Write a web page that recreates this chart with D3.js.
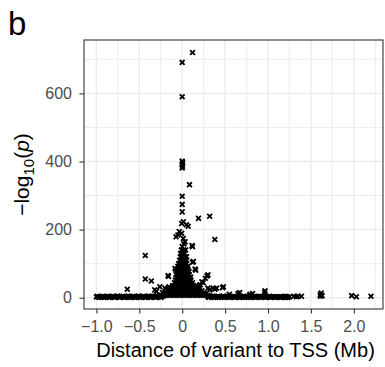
<!DOCTYPE html>
<html>
<head>
<meta charset="utf-8">
<script src="https://cdn.jsdelivr.net/npm/d3@7"></script>
<style>
  html, body { margin: 0; padding: 0; background: #fff; }
  svg { display: block; font-family: "Liberation Sans", Arial, Helvetica, sans-serif; }
</style>
</head>
<body>
<svg id="chart" width="385" height="367"></svg>
<script>
// ---------------- data ----------------
const xTickValues = [-1.0, -0.5, 0, 0.5, 1.0, 1.5, 2.0];
const xTickLabels = ["\u22121.0", "\u22120.5", "0", "0.5", "1.0", "1.5", "2.0"];
const xMinorValues = [-0.75, -0.25, 0.25, 0.75, 1.25, 1.75, 2.25];
const yTickValues = [0, 200, 400, 600];
const yTickLabels = ["0", "200", "400", "600"];
const yMinorValues = [100, 300, 500, 700];

// strong hits and scattered points [distance (Mb), -log10 p]
const outlierPoints = [
  [0.12,720],[0.0,691],[0.0,590],[0.0,401],[0.005,396],[0.0,391],[0.003,386],[0.0,381],
  [0.085,332],[0.0,298],[0.0,274],[0.0,252],[0.32,239],[0.19,233],[0.013,223],[-0.006,218],
  [0.07,210],[0.05,214],[-0.034,194],[-0.006,189],[-0.072,179],[-0.05,184],[0.013,174],
  [0.033,164],[0.02,158],[0.12,150],[0.115,153],[0.0,150],[0.38,171],[-0.43,124],
  [0.13,106],[0.12,104],[0.157,81],[0.15,84],[-0.084,86],[-0.072,81],[-0.16,62],[-0.165,65],
  [-0.155,32],[-0.43,55],[-0.36,49],[0.30,67],[0.29,64],[0.27,57],[0.245,44],[0.23,47],
  [0.21,38],[0.2,33],[0.48,32],[0.47,29],[0.38,25],[0.40,28],[0.36,28],[0.32,23],[0.30,28],
  [-0.26,32],[-0.2,28],[-0.32,23],[-0.30,19],[-0.165,27],[-0.64,25],[-0.23,15],
  [0.965,20],[0.96,15],[0.67,15],[0.65,12],[0.82,12],[0.79,10],[0.55,10]
];

// far-away variants
const farPoints = [
  [1.20,4],[1.22,3],[1.30,4],[1.33,3],[1.35,4],[1.39,4],[1.61,4],[1.61,9],[1.62,14],
  [1.63,6],[1.975,6],[2.03,3],[2.20,4]
];

// dense cluster around the TSS: one row per -log10 p level
const clusterLevels = [140, 130, 120, 110, 100, 92, 84, 76, 68, 60, 52, 44, 36, 28, 20, 13, 7];
const clusterRowsX = [
  [-0.01, 0.02, 0.04],
  [-0.02, 0.01, 0.03],
  [-0.02, 0.0, 0.03, 0.05],
  [-0.03, 0.0, 0.03, 0.05],
  [-0.04, -0.01, 0.02, 0.05],
  [-0.05, -0.02, 0.01, 0.04, 0.07],
  [-0.06, -0.03, 0.0, 0.03, 0.06],
  [-0.06, -0.03, 0.0, 0.03, 0.06, 0.08],
  [-0.07, -0.04, -0.01, 0.02, 0.05, 0.08],
  [-0.07, -0.04, -0.01, 0.02, 0.05, 0.08, 0.10],
  [-0.08, -0.05, -0.02, 0.01, 0.04, 0.07, 0.10],
  [-0.09, -0.06, -0.03, 0.0, 0.03, 0.06, 0.09, 0.12],
  [-0.11, -0.08, -0.05, -0.02, 0.01, 0.04, 0.07, 0.10, 0.13, 0.16],
  [-0.13, -0.10, -0.07, -0.04, -0.01, 0.02, 0.05, 0.08, 0.11, 0.14, 0.17, 0.20],
  [-0.16, -0.13, -0.10, -0.07, -0.04, -0.01, 0.02, 0.05, 0.08, 0.11, 0.14, 0.17, 0.20, 0.23],
  [-0.20, -0.17, -0.14, -0.11, -0.08, -0.05, -0.02, 0.01, 0.04, 0.07, 0.10, 0.13, 0.16, 0.19, 0.22, 0.25, 0.28],
  [-0.24, -0.21, -0.18, -0.15, -0.12, -0.09, -0.06, -0.03, 0.0, 0.03, 0.06, 0.09, 0.12, 0.15, 0.18, 0.21, 0.24, 0.27, 0.30]
];

// the low band of weak associations along the whole window
const bandPoints = [
  [-1.00,2],[-0.99,4],[-0.97,1],[-0.96,3],[-0.94,2],[-0.93,4],[-0.91,1],[-0.90,3],[-0.88,2],[-0.87,4],
  [-0.85,1],[-0.84,3],[-0.82,2],[-0.81,4],[-0.79,1],[-0.78,3],[-0.76,2],[-0.75,5],[-0.73,1],[-0.72,3],
  [-0.70,2],[-0.69,4],[-0.67,1],[-0.66,3],[-0.64,2],[-0.63,5],[-0.61,1],[-0.60,3],[-0.58,2],[-0.57,4],
  [-0.55,1],[-0.54,3],[-0.52,2],[-0.51,5],[-0.49,1],[-0.48,3],[-0.46,2],[-0.45,4],[-0.43,1],[-0.42,3],
  [-0.40,2],[-0.39,5],[-0.37,1],[-0.36,3],[-0.34,2],[-0.33,4],[-0.31,1],[-0.30,6],[-0.28,2],[-0.27,4],
  [-0.25,1],[-0.24,3],[-0.22,5],
  [0.30,3],[0.31,1],[0.33,4],[0.34,2],[0.36,5],[0.37,1],[0.39,3],[0.40,2],[0.42,4],[0.43,1],
  [0.45,3],[0.46,2],[0.48,5],[0.49,1],[0.51,3],[0.52,2],[0.54,4],[0.55,1],[0.57,3],[0.58,2],
  [0.60,4],[0.61,1],[0.63,3],[0.64,2],[0.66,5],[0.67,1],[0.69,3],[0.70,2],[0.72,4],[0.73,1],
  [0.75,3],[0.76,2],[0.78,5],[0.79,1],[0.81,3],[0.82,2],[0.84,4],[0.85,1],[0.87,3],[0.88,2],
  [0.90,4],[0.91,1],[0.93,3],[0.94,2],[0.96,4],[0.97,1],[0.99,3],[1.00,2],[1.02,4],[1.03,1],
  [1.05,3],[1.06,2],[1.08,3],[1.09,1],[1.11,3],[1.12,2],[1.14,3],[1.15,1],[1.17,2],[1.18,3],
  [1.20,1],[1.21,2],[1.23,1],[1.25,2]
];

// ---------------- drawing ----------------
const panel = { left: 84, right: 383, top: 40, bottom: 309 };
const svg = d3.select("#chart");

const x = d3.scaleLinear().domain([-1.1445, 2.3403]).range([panel.left, panel.right]);
const y = d3.scaleLinear().domain([-33.2, 756.8]).range([panel.bottom, panel.top]);

svg.append("rect")
  .attr("x", panel.left).attr("y", panel.top)
  .attr("width", panel.right - panel.left).attr("height", panel.bottom - panel.top)
  .attr("fill", "#fff");

const grid = svg.append("g");
grid.selectAll("line.xminor").data(xMinorValues).join("line")
  .attr("x1", d => x(d)).attr("x2", d => x(d))
  .attr("y1", panel.top).attr("y2", panel.bottom)
  .attr("stroke", "#EBEBEB").attr("stroke-width", 0.9);
grid.selectAll("line.yminor").data(yMinorValues).join("line")
  .attr("y1", d => y(d)).attr("y2", d => y(d))
  .attr("x1", panel.left).attr("x2", panel.right)
  .attr("stroke", "#EBEBEB").attr("stroke-width", 0.9);
grid.selectAll("line.xmajor").data(xTickValues).join("line")
  .attr("x1", d => x(d)).attr("x2", d => x(d))
  .attr("y1", panel.top).attr("y2", panel.bottom)
  .attr("stroke", "#EBEBEB").attr("stroke-width", 1.4);
grid.selectAll("line.ymajor").data(yTickValues).join("line")
  .attr("y1", d => y(d)).attr("y2", d => y(d))
  .attr("x1", panel.left).attr("x2", panel.right)
  .attr("stroke", "#EBEBEB").attr("stroke-width", 1.4);

// points
const clusterPoints = [];
clusterLevels.forEach((v, i) => clusterRowsX[i].forEach(px => clusterPoints.push([px, v])));
const allPoints = bandPoints.concat(clusterPoints, farPoints, outlierPoints);

const cross = "M-2.4,-2.4L2.4,2.4M-2.4,2.4L2.4,-2.4";
svg.append("g").selectAll("path").data(allPoints).join("path")
  .attr("transform", d => `translate(${x(d[0])},${y(d[1])})`)
  .attr("d", cross)
  .attr("fill", "none")
  .attr("stroke", "#000")
  .attr("stroke-width", 1.8);

svg.append("rect")
  .attr("x", panel.left).attr("y", panel.top)
  .attr("width", panel.right - panel.left).attr("height", panel.bottom - panel.top)
  .attr("fill", "none").attr("stroke", "#333").attr("stroke-width", 1.1);

// axes
const xAxis = d3.axisBottom(x).tickValues(xTickValues)
  .tickFormat((d, i) => xTickLabels[i]).tickSize(4.5).tickPadding(7.5);
const gx = svg.append("g").attr("transform", `translate(0,${panel.bottom})`).call(xAxis);
gx.select(".domain").remove();
gx.selectAll(".tick line").attr("stroke", "#333").attr("stroke-width", 1.1);
gx.selectAll(".tick text").attr("fill", "#4D4D4D").style("font-size", "16px")
  .style("font-family", "'Liberation Sans', Arial, sans-serif");

const yAxis = d3.axisLeft(y).tickValues(yTickValues)
  .tickFormat((d, i) => yTickLabels[i]).tickSize(4.5).tickPadding(7.5);
const gy = svg.append("g").attr("transform", `translate(${panel.left},0)`).call(yAxis);
gy.select(".domain").remove();
gy.selectAll(".tick line").attr("stroke", "#333").attr("stroke-width", 1.1);
gy.selectAll(".tick text").attr("fill", "#4D4D4D").style("font-size", "16px")
  .style("font-family", "'Liberation Sans', Arial, sans-serif");

// axis titles
svg.append("text")
  .attr("x", (panel.left + panel.right) / 2 + 2).attr("y", 356.5)
  .attr("text-anchor", "middle").attr("fill", "#000")
  .style("font-size", "20px")
  .text("Distance of variant to TSS (Mb)");

const yt = svg.append("text")
  .attr("transform", `translate(29,${(panel.top + panel.bottom) / 2}) rotate(-90)`)
  .attr("text-anchor", "middle").attr("fill", "#000")
  .style("font-size", "21px");
yt.append("tspan").text("\u2212log");
yt.append("tspan").attr("dy", 4.5).style("font-size", "15px").text("10");
yt.append("tspan").attr("dy", -4.5).text("(");
yt.append("tspan").style("font-style", "italic").text("p");
yt.append("tspan").text(")");

// panel tag
svg.append("text")
  .attr("x", 8).attr("y", 35)
  .attr("fill", "#000")
  .style("font-size", "33px")
  .text("b");
</script>
</body>
</html>
